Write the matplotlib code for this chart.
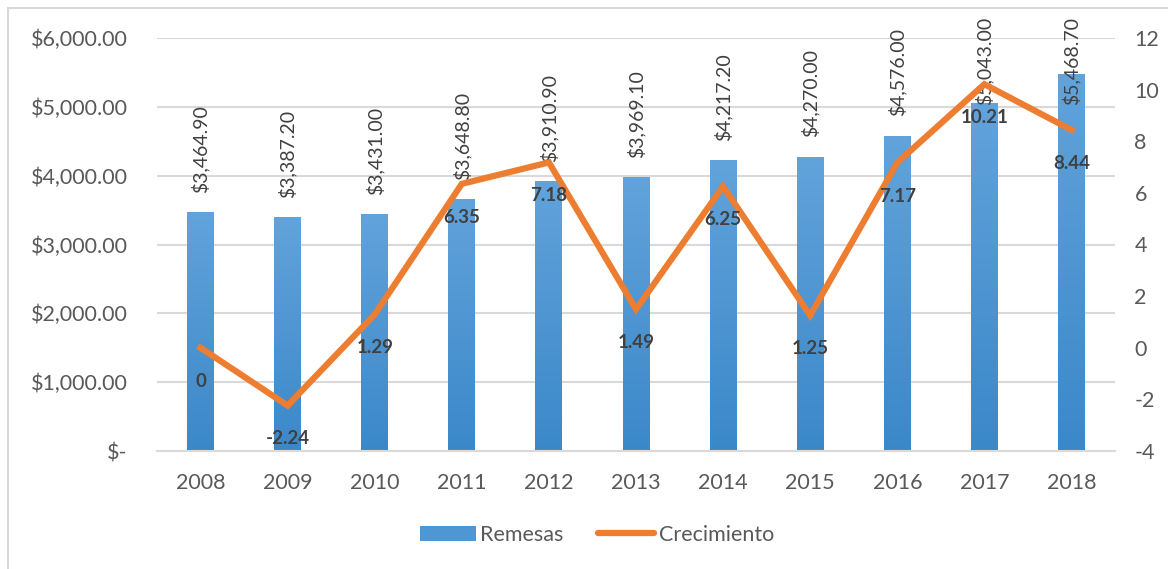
import numpy as np
import matplotlib.pyplot as plt
from matplotlib.patches import Rectangle, Patch
from matplotlib.lines import Line2D
from matplotlib.colors import LinearSegmentedColormap

plt.rcParams['font.family'] = ['Lato', 'DejaVu Sans']
plt.rcParams['axes.unicode_minus'] = False

# data
years = ['2008', '2009', '2010', '2011', '2012', '2013', '2014', '2015', '2016', '2017', '2018']
remesas = [3464.9, 3387.2, 3431.0, 3648.8, 3910.9, 3969.1, 4217.2, 4270.0, 4576.0, 5043.0, 5468.7]
crecimiento = [0, -2.24, 1.29, 6.35, 7.18, 1.49, 6.25, 1.25, 7.17, 10.21, 8.44]
crec_labels = ['0', '-2.24', '1.29', '6.35', '7.18', '1.49', '6.25', '1.25', '7.17', '10.21', '8.44']

grey = '#595959'
dark = '#404040'
orange = '#ED7D31'

fig = plt.figure(figsize=(11.68, 5.69), dpi=100)
# chart border
fig.patches.append(Rectangle((8 / 1168, -0.1), 1.2, (569 - 8) / 569 + 0.1,
                             transform=fig.transFigure, fill=False,
                             edgecolor='#d9d9d9', linewidth=1.5))

ax = fig.add_axes([157 / 1168, 118 / 569, 958 / 1168, 413 / 569])
ax2 = ax.twinx()

x = np.arange(len(years))
w = 0.31

# bars with a soft vertical gradient
grad = np.linspace(0, 1, 256).reshape(-1, 1)
cmap = LinearSegmentedColormap.from_list('bl', ['#3b88c9', '#62a3db'])
for xi, v in zip(x, remesas):
    ax.imshow(grad, extent=[xi - w / 2, xi + w / 2, 0, v], origin='lower',
              aspect='auto', cmap=cmap, zorder=2)
    ly = min(v + 290, 5030)
    ax.text(xi, ly, '${:,.2f}'.format(v), rotation=90, ha='center', va='bottom',
            fontsize=14, color=dark, zorder=3, clip_on=False)

ax.set_xlim(-0.5, len(years) - 0.5)
ax.set_ylim(0, 6000)
ax.set_yticks(np.arange(0, 6001, 1000))
ax.set_yticklabels(['$-'] + ['${:,.2f}'.format(t) for t in range(1000, 6001, 1000)])
ax.set_xticks(x)
ax.set_xticklabels(years)
ax.grid(axis='y', color='#d9d9d9', linewidth=1.5, zorder=0)
ax.set_axisbelow(True)
ax.tick_params(axis='y', length=0, pad=21, labelsize=15.5, labelcolor=grey)
ax.tick_params(axis='x', length=0, pad=16, labelsize=15.5, labelcolor=grey)
for s in ax.spines.values():
    s.set_visible(False)
ax.spines['bottom'].set_visible(True)
ax.spines['bottom'].set_color('#d9d9d9')
ax.spines['bottom'].set_linewidth(1.5)

ax2.plot(x, crecimiento, color=orange, linewidth=4.5, solid_joinstyle='miter', zorder=4)
ax2.set_ylim(-4, 12)
ax2.set_yticks(np.arange(-4, 13, 2))
ax2.tick_params(axis='y', length=0, pad=14, labelsize=15.5, labelcolor=grey)
for s in ax2.spines.values():
    s.set_visible(False)
for xi, v, lab in zip(x, crecimiento, crec_labels):
    ax2.annotate(lab, (xi, v), xytext=(0, -24), textcoords='offset points',
                 ha='center', va='center', fontsize=13.5, fontweight='bold',
                 color=dark, zorder=5)

handles = [Patch(facecolor='#4f97d3', edgecolor='none'),
           Line2D([0], [0], color=orange, linewidth=4.5, solid_capstyle='round')]
fig.legend(handles, ['Remesas', 'Crecimiento'], loc='center',
           bbox_to_anchor=(597 / 1168, 1 - 535 / 569), ncol=2, frameon=False,
           fontsize=15.5, labelcolor=grey, handlelength=2.6, handletextpad=0.2,
           columnspacing=1.6)

fig.savefig('out.png', dpi=100)
